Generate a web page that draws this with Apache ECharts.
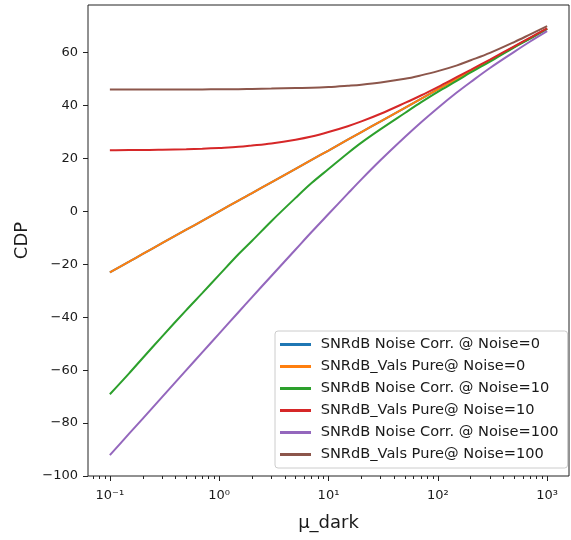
<!DOCTYPE html>
<html>
<head>
<meta charset="utf-8">
<script src="https://cdn.jsdelivr.net/npm/echarts@6/dist/echarts.min.js"></script>
<style>
html,body{margin:0;padding:0;background:#fff;}
#chart{width:571px;height:540px;}
</style>
</head>
<body>
<div id="chart"></div>
<script>
const muDark = [0.1,0.15,0.2,0.3,0.5,0.7,1,1.5,2,3,5,7,10,15,20,30,50,70,100,150,200,300,500,700,1000];
const corrNoise0  = [-23.0,-19.0,-16.1,-12.0,-6.9,-3.6,0,4.1,6.9,11.0,16.1,19.5,23.0,27.1,30.0,34.0,39.1,42.5,46.1,50.1,53.0,57.0,62.2,65.5,69.1];
const pureNoise0  = [-23.0,-19.0,-16.1,-12.0,-6.9,-3.6,0,4.1,6.9,11.0,16.1,19.5,23.0,27.1,30.0,34.0,39.1,42.5,46.1,50.1,53.0,57.0,62.2,65.5,69.1];
const corrNoise10 = [-69.1,-61.2,-55.4,-47.3,-37.3,-30.9,-24.0,-16.2,-11.1,-3.7,5.1,10.7,16.0,22.0,26.0,31.1,37.2,41.2,45.2,49.4,52.5,56.6,62.0,65.3,69.0];
const pureNoise10 = [23.1,23.2,23.2,23.3,23.5,23.7,24.0,24.4,24.9,25.7,27.1,28.3,30.0,32.2,34.0,36.9,41.0,43.8,47.0,50.8,53.5,57.4,62.4,65.7,69.2];
const corrNoise100 = [-92.1,-84.0,-78.3,-70.2,-60.0,-53.3,-46.2,-38.1,-32.4,-24.4,-14.4,-7.8,-1.0,6.7,12.1,19.4,28.1,33.6,39.1,45.0,48.9,54.2,60.3,64.2,68.1];
const pureNoise100 = [46.1,46.1,46.1,46.1,46.1,46.1,46.2,46.2,46.3,46.4,46.6,46.7,47.0,47.5,47.9,48.7,50.1,51.4,53.0,55.2,57.1,59.9,64.0,66.9,70.0];

const seriesNames = [
  'SNRdB Noise Corr. @ Noise=0',
  'SNRdB_Vals Pure@ Noise=0',
  'SNRdB Noise Corr. @ Noise=10',
  'SNRdB_Vals Pure@ Noise=10',
  'SNRdB Noise Corr. @ Noise=100',
  'SNRdB_Vals Pure@ Noise=100'
];
const seriesValues = [corrNoise0, pureNoise0, corrNoise10, pureNoise10, corrNoise100, pureNoise100];
const colors = ['#1f77b4','#ff7f0e','#2ca02c','#d62728','#9467bd','#8c564b'];

const xMajorTicks = [0.1,1,10,100,1000];
const xTickLabels = ['10\u207B\u00B9','10\u2070','10\u00B9','10\u00B2','10\u00B3'];
const xMinorTicks = [0.07,0.08,0.09,0.2,0.3,0.4,0.5,0.6,0.7,0.8,0.9,2,3,4,5,6,7,8,9,20,30,40,50,60,70,80,90,200,300,400,500,600,700,800,900];
const yTicks = [-100,-80,-60,-40,-20,0,20,40,60];

const font = 'DejaVu Sans';
const textColor = '#1a1a1a';
const xmin = Math.pow(10,-1.2), xmax = Math.pow(10,3.2);

const chart = echarts.init(document.getElementById('chart'), null, {renderer:'canvas'});
chart.setOption({
  animation:false,
  backgroundColor:'#fff',
  grid:{left:88,right:2,top:5,bottom:64,show:true,borderColor:'#222',borderWidth:1,backgroundColor:'transparent'},
  legend:{
    orient:'vertical', left:275, top:331,
    padding:[5,9,5,5], itemGap:5, itemWidth:31, itemHeight:17,
    backgroundColor:'rgba(255,255,255,0.85)', borderColor:'#cccccc', borderWidth:1, borderRadius:3,
    textStyle:{fontFamily:font,fontSize:14.6,lineHeight:17,color:textColor},
    formatter:function(n){return ' '+n;},
    data:seriesNames.map(n=>({name:n,icon:'path://M0,0L31,0L31,3L0,3Z'}))
  },
  xAxis:[{
    type:'log', logBase:10, min:xmin, max:xmax, gridIndex:0,
    name:'\u03BC_dark', nameLocation:'middle', nameGap:38,
    nameTextStyle:{fontFamily:font,fontSize:18,color:textColor},
    axisLine:{show:false,onZero:false},
    splitLine:{show:false},
    axisTick:{show:true,inside:false,length:5,lineStyle:{color:'#222'},customValues:xMajorTicks},
    axisLabel:{fontFamily:font,fontSize:13,color:textColor,margin:13,customValues:xMajorTicks,
      formatter:function(v){const i=xMajorTicks.findIndex(t=>Math.abs(Math.log10(t)-Math.log10(v))<1e-6);return i>=0?xTickLabels[i]:'';}}
  },{
    type:'log', logBase:10, min:xmin, max:xmax, gridIndex:0, position:'bottom',
    axisLine:{show:false,onZero:false}, splitLine:{show:false},
    axisTick:{show:true,length:3,lineStyle:{color:'#222'},customValues:xMinorTicks},
    axisLabel:{show:false}
  }],
  yAxis:{
    type:'value', min:-100, max:78,
    name:'CDP', nameLocation:'middle', nameGap:56,
    nameTextStyle:{fontFamily:font,fontSize:18,color:textColor},
    axisLine:{show:false,onZero:false}, splitLine:{show:false},
    axisTick:{show:true,length:5,lineStyle:{color:'#222'},customValues:yTicks},
    axisLabel:{fontFamily:font,fontSize:13,color:textColor,margin:10,customValues:yTicks,
      formatter:function(v){return String(v).replace('-','\u2212');}}
  },
  series:seriesNames.map((n,i)=>({
    name:n, type:'line', xAxisIndex:0, showSymbol:false, symbol:'none', smooth:0.35,
    color:colors[i],
    lineStyle:{width:2,color:colors[i]},
    data:muDark.map((x,j)=>[x,seriesValues[i][j]])
  }))
});
</script>
</body>
</html>
